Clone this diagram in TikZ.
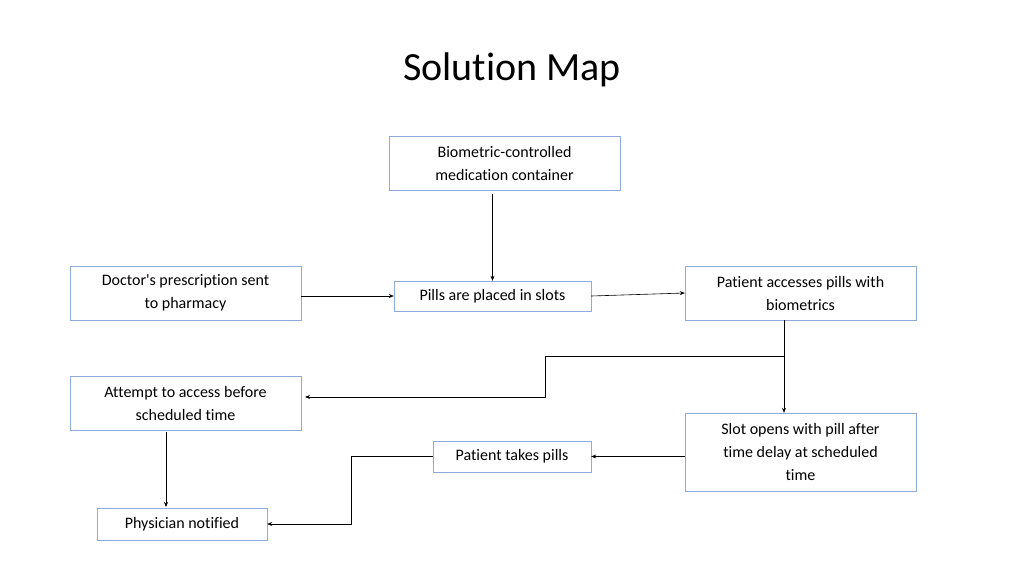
\documentclass[tikz,border=0pt]{standalone}
\usepackage{fontspec}
\setmainfont[Ligatures={NoCommon}]{Carlito}
\usetikzlibrary{arrows.meta}
\definecolor{boxline}{HTML}{8FAADC}
\tikzset{
	etapa/.style={rectangle, draw=boxline, fill=white, font=\fontsize{16}{23}\selectfont,
		align=center, inner sep=2pt},
	flecha/.style={draw=black, line width=0.6pt, -{Stealth[length=5pt,width=4pt]}}
}

\begin{document}
\begin{tikzpicture}[x=1pt,y=-1pt]
			\useasboundingbox (0,0) rectangle (1024,576);
			\node[font=\fontsize{40}{48}\selectfont] (titulo) at (512,70) {Solution Map};
			
			\node[etapa, minimum width=231pt, minimum height=54pt] (bio) at (504.5,163) {Biometric-controlled\\medication container};
			\node[etapa, minimum width=231pt, minimum height=54pt] (doc) at (185.5,293) {Doctor\textquotesingle s prescription sent\\to pharmacy};
			\node[etapa, minimum width=197pt, minimum height=30pt] (pills) at (492.5,296) {Pills are placed in slots};
			\node[etapa, minimum width=231pt, minimum height=54pt] (pat) at (800.5,293) {Patient accesses pills with\\biometrics};
			\node[etapa, minimum width=231pt, minimum height=54pt] (att) at (185.5,403) {Attempt to access before\\scheduled time};
			\node[etapa, minimum width=231pt, minimum height=78pt] (slot) at (800.5,452) {Slot opens with pill after\\time delay at scheduled\\time};
			\node[etapa, minimum width=158pt, minimum height=31pt] (take) at (512,456.5) {Patient takes pills};
			\node[etapa, minimum width=170pt, minimum height=32pt] (phys) at (182,524) {Physician notified};
			
			\coordinate (rama) at (784,356);
			\coordinate (llegada) at (305,397);
			
			\draw[flecha] (bio.south -| pills.north) ++(0,4) -- (pills.north);
			\draw[flecha] (doc.east |- pills.west) -- (pills.west);
			\draw[flecha] (pills.east) -- (pat.west);
			\draw[flecha] (rama |- pat.south) -- (rama |- slot.north);
			\draw[flecha] (rama) -- (545,356) -- (545,397) -- (llegada);
			\draw[flecha] (166,432) -- (166,507);
			\draw[flecha] (slot.west |- take.east) -- (take.east);
			\draw[flecha] (take.west) -- (351,456.5) -- (351,524) -- (phys.east);
		\end{tikzpicture}
\end{document}
